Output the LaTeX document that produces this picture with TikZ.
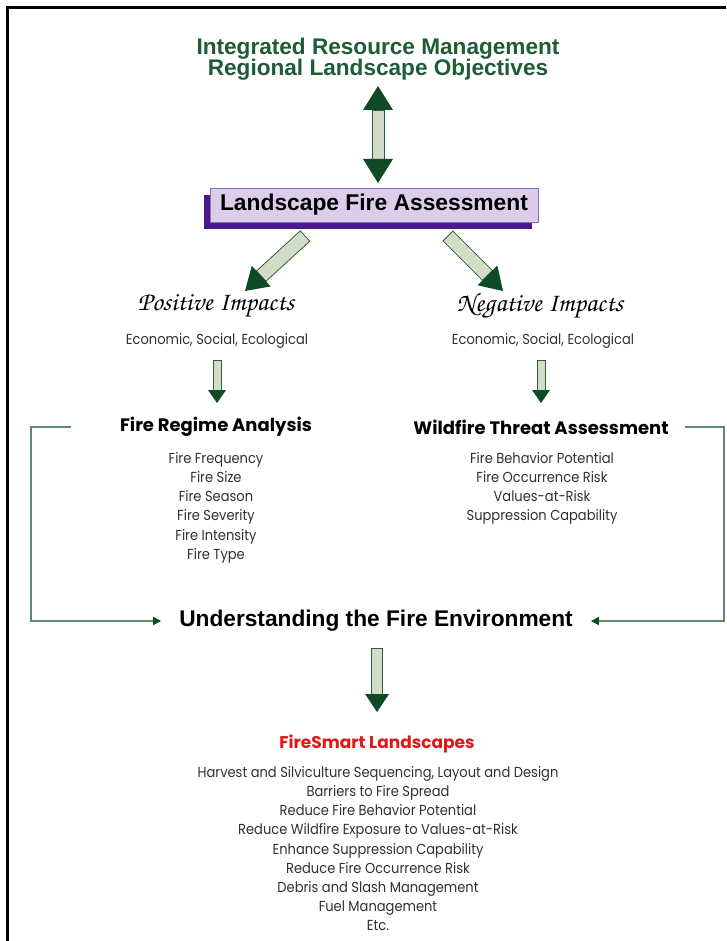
\documentclass[tikz,border=0pt]{standalone}
\usepackage[T1]{fontenc}
\usepackage{fontspec}
\setmainfont{Liberation Sans}
\newfontfamily\geofont{Poppins}[FakeStretch=0.9]
\newfontfamily\geobold{Poppins Bold}
\newcommand{\impactfont}{\fontencoding{T1}\fontfamily{pzc}\fontseries{mb}\fontshape{it}\selectfont}
\usetikzlibrary{positioning,arrows.meta,calc,shadows}
\usepackage{xcolor}
\definecolor{headgreen}{HTML}{0E4A26}
\definecolor{shaftfill}{HTML}{D3DCC7}
\definecolor{shaftline}{HTML}{2F5E3E}
\definecolor{titlegreen}{HTML}{1F5C36}
\definecolor{linkgreen}{HTML}{5C8A6C}
\definecolor{boxfill}{HTML}{DCCDEB}
\definecolor{boxline}{HTML}{8A6CC0}
\definecolor{boxshadow}{HTML}{4A1A8C}
\definecolor{smartred}{HTML}{E01818}
\definecolor{textgray}{HTML}{303030}

% block arrow: tail, tip, shaft half width, head half width, head length
\newcommand{\fatarrow}[5]{%
  \coordinate (fa-b) at ($(#2)!#5!(#1)$);
  \filldraw[shaft] ($(#1)!#3!90:(#2)$) -- ($(#1)!#3!-90:(#2)$)
    -- ($(fa-b)!#3!-90:(#2)$) -- ($(fa-b)!#3!90:(#2)$) -- cycle;
  \fill[fathead] (#2) -- ($(fa-b)!#4!90:(#2)$) -- ($(fa-b)!#4!-90:(#2)$) -- cycle;
}
% block arrow with a head at both ends
\newcommand{\dblarrow}[5]{%
  \coordinate (fa-a) at ($(#1)!#5!(#2)$);
  \coordinate (fa-b) at ($(#2)!#5!(#1)$);
  \filldraw[shaft] ($(fa-a)!#3!90:(#2)$) -- ($(fa-a)!#3!-90:(#2)$)
    -- ($(fa-b)!#3!-90:(#2)$) -- ($(fa-b)!#3!90:(#2)$) -- cycle;
  \fill[fathead] (#2) -- ($(fa-b)!#4!90:(#2)$) -- ($(fa-b)!#4!-90:(#2)$) -- cycle;
  \fill[fathead] (#1) -- ($(fa-a)!#4!90:(#1)$) -- ($(fa-a)!#4!-90:(#1)$) -- cycle;
}

\begin{document}
\begin{tikzpicture}[x=1pt,y=-1pt,
    shaft/.style={fill=shaftfill,draw=shaftline,line width=0.8pt},
    fathead/.style={fill=headgreen},
    titletext/.style={font=\bfseries\fontsize{22.6}{20}\selectfont,text=titlegreen,align=center,inner sep=0pt},
    lfabox/.style={draw=boxline,line width=0.8pt,fill=boxfill,minimum width=328pt,minimum height=34pt,
                   font=\bfseries\fontsize{22.8}{24}\selectfont,
                   drop shadow={shadow xshift=-6pt,shadow yshift=-7pt,fill=boxshadow,opacity=1}},
    impact/.style={font=\impactfont\fontsize{26.5}{28}\selectfont,inner sep=0pt},
    sub/.style={font=\geofont\fontsize{14.5}{19.2}\selectfont,text=textgray,align=center,inner sep=0pt},
    colhead/.style={font=\geobold\fontsize{18}{19}\selectfont,inner sep=0pt},
    ufetext/.style={font=\bfseries\fontsize{22.7}{24}\selectfont,inner sep=0pt},
    smart/.style={font=\geobold\fontsize{17}{19}\selectfont,text=smartred,inner sep=0pt},
    link/.style={linkgreen,line width=1.8pt,-{Triangle[length=8pt,width=8pt,color=headgreen]}}]
  \useasboundingbox (0,0) rectangle (726,941);
  % frame
  \draw[line width=3pt] (7,941) -- (7,8) -- (726,8);

  \node[titletext] (irm) at (378,59) {Integrated Resource Management\\[-1pt]Regional Landscape Objectives};
  \node[lfabox] (lfa) at (374,205) {Landscape Fire Assessment};

  \node[impact] (pos) at (216,306) {Positive Impacts};
  \node[impact] (neg) at (540,306) {Negative Impacts};
  \node[sub] (posx) at (217,341) {Economic, Social, Ecological};
  \node[sub] (negx) at (543,341) {Economic, Social, Ecological};

  \node[colhead] (fra) at (216,427) {Fire Regime Analysis};
  \node[colhead] (wta) at (541,427) {Wildfire Threat Assessment};
  \node[sub,anchor=north] (fral) at (216,452) {Fire Frequency\\Fire Size\\Fire Season\\Fire Severity\\Fire Intensity\\Fire Type};
  \node[sub,anchor=north] (wtal) at (542,452) {Fire Behavior Potential\\Fire Occurrence Risk\\Values-at-Risk\\Suppression Capability};

  \node[ufetext] (ufe) at (376,621) {Understanding the Fire Environment};
  \node[smart] (fsl) at (377,744) {FireSmart Landscapes};
  \node[sub,anchor=north] (fsll) at (378,766) {Harvest and Silviculture Sequencing, Layout and Design\\
    Barriers to Fire Spread\\Reduce Fire Behavior Potential\\Reduce Wildfire Exposure to Values-at-Risk\\
    Enhance Suppression Capability\\Reduce Fire Occurrence Risk\\Debris and Slash Management\\
    Fuel Management\\Etc.};

  % block arrows
  \coordinate (irm-s) at (378,86);
  \coordinate (lfa-n) at (378,183);
  \dblarrow{irm-s}{lfa-n}{6pt}{15pt}{24pt}
  \coordinate (lfa-sw) at (305,236);
  \coordinate (pos-n) at (245,291);
  \fatarrow{lfa-sw}{pos-n}{7pt}{14pt}{22pt}
  \coordinate (lfa-se) at (448,236);
  \coordinate (neg-n) at (503,291);
  \fatarrow{lfa-se}{neg-n}{7pt}{14pt}{22pt}
  \coordinate (posx-s) at (217,360);
  \coordinate (fra-n) at (217,403);
  \fatarrow{posx-s}{fra-n}{4pt}{9pt}{13pt}
  \coordinate (negx-s) at (541,360);
  \coordinate (wta-n) at (541,403);
  \fatarrow{negx-s}{wta-n}{4pt}{9pt}{13pt}
  \coordinate (ufe-s) at (377,648);
  \coordinate (fsl-n) at (377,712);
  \fatarrow{ufe-s}{fsl-n}{5.5pt}{12pt}{18pt}

  % side connectors
  \draw[link] ([xshift=-49pt]fra.west) -- ++(-40,0) |- ([xshift=-18pt]ufe.west);
  \draw[link] ([xshift=16pt]wta.east) -- (724,427) |- ([xshift=18pt]ufe.east);
\end{tikzpicture}
\end{document}
